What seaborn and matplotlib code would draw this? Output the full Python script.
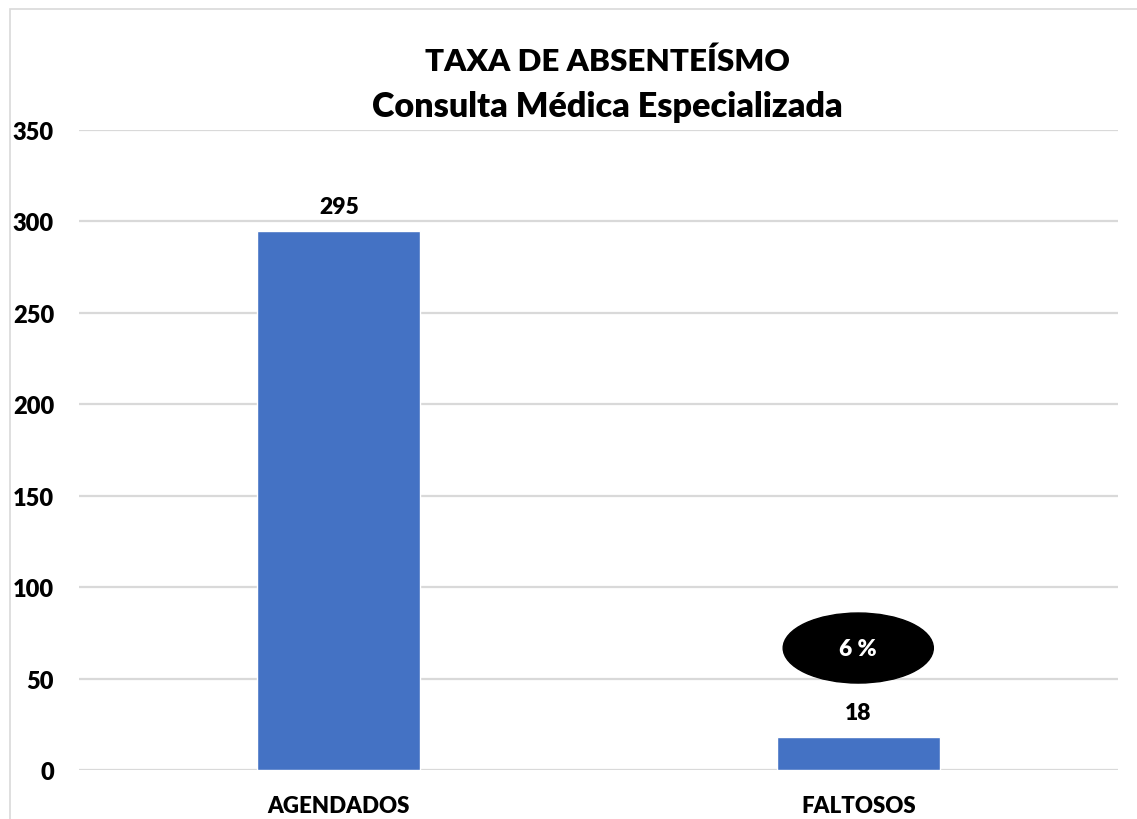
import matplotlib
matplotlib.use("Agg")
import matplotlib.pyplot as plt
from matplotlib.patches import Ellipse, Rectangle
import seaborn as sns
import pandas as pd

# Dados do gráfico
categorias = ["AGENDADOS", "FALTOSOS"]
valores = [295, 18]
titulo = ["TAXA DE ABSENTEÍSMO", "Consulta Médica Especializada"]
yticks = [0, 50, 100, 150, 200, 250, 300, 350]

azul = "#4472C4"
cinza = "#D9D9D9"
peso = "heavy"

sns.set_theme(style="white")
plt.rcParams["font.family"] = ["Lato", "DejaVu Sans"]
plt.rcParams["font.weight"] = peso

df = pd.DataFrame({"categoria": categorias, "valor": valores})

fig = plt.figure(figsize=(11.37, 8.2), dpi=100)
ax = fig.add_axes([79 / 1137, 1 - 771 / 820, (1118 - 79) / 1137, (771 - 131) / 820])

sns.barplot(data=df, x="categoria", y="valor", hue="categoria",
            palette=[azul, azul], width=0.314, legend=False, ax=ax,
            saturation=1)

ax.set_ylim(0, 350)
ax.set_xlim(-0.5, 1.5)
ax.set_yticks(yticks, labels=[str(t) for t in yticks],
              fontsize=17, fontweight=peso, color="black")
ax.set_xticks(range(len(categorias)), labels=categorias,
              fontsize=16, fontweight=peso, color="black")
ax.yaxis.grid(True, color=cinza, linewidth=1.6)
ax.set_axisbelow(True)
for s in ax.spines.values():
    s.set_visible(False)
ax.tick_params(axis="y", length=0, pad=18)
ax.tick_params(axis="x", length=0, pad=18)
ax.set_xlabel("")
ax.set_ylabel("")

# Rótulos de valor sobre as barras
for i, v in enumerate(valores):
    ax.annotate(f"{v}", xy=(i, v), xytext=(0, 17.5), textcoords="offset points",
                ha="center", va="center", fontsize=16.5, fontweight=peso,
                color="black")

# Percentual de faltosos em destaque
pct = round(valores[1] / valores[0] * 100)
elipse = Ellipse((1, 66.7), width=0.289, height=38.3, facecolor="black",
                 edgecolor="black", zorder=5)
ax.add_patch(elipse)
ax.text(1, 66.7, f"{pct} %", ha="center", va="center", color="white",
        fontsize=16.5, fontweight=peso, zorder=6)

# Título em duas linhas
fig.text(607 / 1137, 1 - 62 / 820, titulo[0], ha="center", va="center",
         fontsize=22.6, fontweight=peso, color="black")
fig.text(607 / 1137, 1 - 107 / 820, titulo[1], ha="center", va="center",
         fontsize=24.6, fontweight=peso, color="black")

# Moldura da área do gráfico
fig.patches.append(Rectangle((10 / 1137, -0.1), 1.2, 1.1 - 10 / 820,
                             transform=fig.transFigure, fill=False,
                             edgecolor=cinza, linewidth=1.2, clip_on=False))

fig.savefig("out.png", dpi=100)
